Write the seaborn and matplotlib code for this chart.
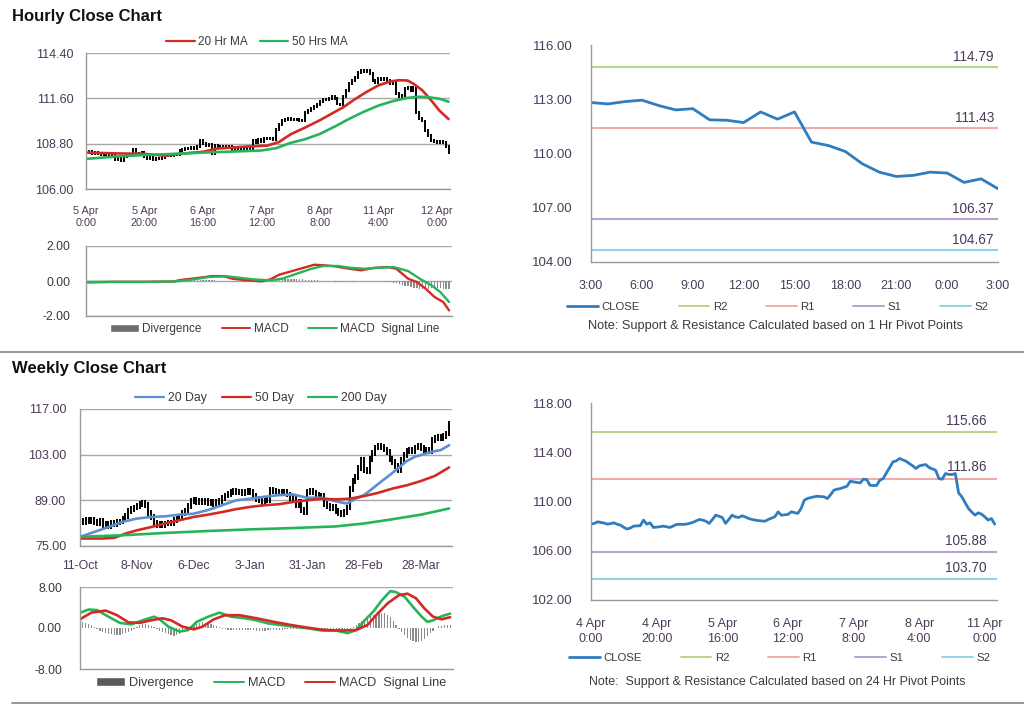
import numpy as np
import matplotlib
matplotlib.use("Agg")
import matplotlib.pyplot as plt
import seaborn as sns
from matplotlib.lines import Line2D
from matplotlib.patches import Patch

sns.set_theme(style="white")
plt.rcParams["font.family"] = ["Liberation Sans", "DejaVu Sans"]

# ---------------- DATA ----------------
# Hourly close chart (top-left), 125 hourly points
hourly_close = [
    108.25, 108.30, 108.22, 108.28, 108.20, 108.15, 108.18, 108.10, 108.12, 108.05,
    107.80, 107.90, 107.75, 108.00, 108.10, 108.05, 108.45, 108.20, 108.15, 108.25,
    108.00, 107.90, 107.95, 107.85, 107.90, 107.88, 107.95, 108.05, 108.10, 108.08,
    108.12, 108.15, 108.35, 108.45, 108.50, 108.48, 108.55, 108.50, 108.60, 109.00,
    108.80, 108.70, 108.75, 108.20, 108.70, 108.65, 108.60, 108.62, 108.55, 108.60,
    108.45, 108.40, 108.42, 108.45, 108.40, 108.50, 108.48, 109.00, 108.90, 109.05,
    108.95, 109.10, 109.10, 109.15, 109.05, 109.70, 110.00, 110.25, 110.30, 110.35,
    110.30, 110.32, 110.28, 110.25, 110.20, 110.70, 110.85, 110.95, 111.10, 111.20,
    111.40, 111.50, 111.55, 111.60, 111.70, 111.60, 111.25, 111.20, 111.70, 112.10,
    112.50, 112.70, 112.90, 113.20, 113.35, 113.25, 113.30, 113.15, 112.70, 112.60,
    112.80, 112.75, 112.85, 112.70, 112.50, 112.55, 111.90, 111.70, 111.80, 112.20,
    112.25, 112.10, 112.30, 110.70, 110.35, 110.20, 109.60, 109.30, 109.00, 108.95,
    108.90, 108.95, 108.85, 108.60, 108.25]
hourly_tick_labels = ["5 Apr\n0:00", "5 Apr\n20:00", "6 Apr\n16:00", "7 Apr\n12:00",
                      "8 Apr\n8:00", "11 Apr\n4:00", "12 Apr\n0:00"]
ma20h_idx = [0, 10, 20, 27, 32, 40, 45, 55, 62, 66, 70, 75, 80, 85, 88, 92, 96, 100,
             104, 107, 110, 112, 115, 118, 121, 124]
ma20h = [108.25, 108.20, 108.17, 108.05, 108.17, 108.30, 108.50, 108.62, 108.68, 108.90,
         109.38, 109.80, 110.25, 110.75, 111.05, 111.55, 112.00, 112.40, 112.64, 112.72,
         112.70, 112.50, 112.10, 111.49, 110.82, 110.32]
ma50h_idx = [0, 10, 20, 30, 40, 50, 60, 65, 70, 75, 80, 85, 90, 95, 100, 105, 110, 114,
             118, 121, 124]
ma50h = [107.86, 108.00, 108.10, 108.17, 108.25, 108.31, 108.38, 108.52, 108.85, 109.08,
         109.40, 109.85, 110.33, 110.77, 111.15, 111.43, 111.63, 111.70, 111.65, 111.57,
         111.39]
macdh_idx = [0, 10, 20, 30, 32, 38, 43, 47, 50, 55, 60, 63, 66, 70, 74, 78, 81, 85, 90,
             94, 98, 103, 106, 110, 113, 116, 119, 122, 124]
macdh = [-0.08, -0.05, -0.05, -0.03, 0.05, 0.17, 0.28, 0.28, 0.13, 0.04, -0.02, 0.10,
         0.36, 0.55, 0.74, 0.93, 0.90, 0.84, 0.70, 0.61, 0.74, 0.80, 0.70, 0.13, -0.06,
         -0.44, -0.91, -1.20, -1.68]
signalh_idx = [0, 10, 20, 30, 35, 42, 48, 52, 58, 63, 67, 72, 77, 81, 86, 90, 95, 100,
               105, 110, 114, 118, 121, 124]
signalh = [-0.05, -0.05, -0.05, -0.03, 0.05, 0.23, 0.27, 0.19, 0.08, 0.04, 0.13, 0.42,
           0.70, 0.86, 0.86, 0.76, 0.70, 0.76, 0.80, 0.57, 0.13, -0.25, -0.63, -1.20]
divh = [
    0.0, 0.0, 0.0, 0.0, 0.0, 0.0, 0.0, 0.0, 0.0, 0.0,
    0.0, 0.0, 0.0, 0.0, 0.0, 0.0, 0.0, 0.0, 0.0, 0.0,
    0.0, 0.0, 0.0, 0.0, 0.0, 0.0, 0.0, 0.0, 0.0, 0.0,
    0.01, 0.02, 0.03, 0.04, 0.05, 0.05, 0.05, 0.05, 0.04, 0.04,
    0.04, 0.04, 0.03, 0.03, 0.03, 0.02, 0.02, 0.01, 0.0, -0.02,
    -0.03, -0.04, -0.04, -0.04, -0.03, -0.03, -0.02, -0.02, -0.01, 0.0,
    0.02, 0.04, 0.06, 0.08, 0.10, 0.12, 0.13, 0.14, 0.14, 0.14,
    0.13, 0.13, 0.12, 0.10, 0.09, 0.08, 0.07, 0.05, 0.04, 0.03,
    0.02, 0.01, 0.0, -0.01, -0.02, -0.03, -0.03, -0.04, -0.04, -0.04,
    -0.04, -0.03, -0.03, -0.02, -0.02, -0.01, -0.01, 0.0, 0.0, 0.0,
    -0.01, -0.02, -0.03, -0.05, -0.07, -0.10, -0.14, -0.18, -0.22, -0.26,
    -0.30, -0.34, -0.38, -0.42, -0.45, -0.46, -0.46, -0.44, -0.42, -0.40,
    -0.40, -0.42, -0.44, -0.45, -0.46]

# Hourly pivot chart (top-right), 25 hourly points 3:00 -> 3:00
pivot1_close = [112.82, 112.74, 112.87, 112.95, 112.65, 112.41, 112.48, 111.86, 111.84,
                111.71, 112.30, 111.90, 112.30, 110.63, 110.44, 110.11, 109.43, 108.97,
                108.73, 108.79, 108.97, 108.92, 108.40, 108.60, 108.05]
pivot1_tick_labels = ["3:00", "6:00", "9:00", "12:00", "15:00", "18:00", "21:00", "0:00", "3:00"]
pivot1_levels = {"R2": 114.79, "R1": 111.43, "S1": 106.37, "S2": 104.67}

# Weekly close chart (bottom-left), 131 daily points
daily_close = [
    82.8, 82.2, 83.0, 82.5, 82.9, 82.4, 82.0, 82.6, 81.5, 81.9,
    81.2, 82.0, 81.6, 82.3, 82.5, 83.2, 84.2, 85.6, 86.3, 86.8,
    87.2, 87.8, 88.2, 87.5, 85.0, 83.8, 82.0, 81.5, 81.8, 81.3,
    81.9, 82.2, 82.0, 83.0, 83.6, 84.0, 85.2, 85.8, 87.2, 88.8,
    89.0, 88.6, 88.8, 88.4, 88.7, 88.2, 88.5, 88.0, 88.6, 88.8,
    89.6, 90.5, 91.0, 91.5, 91.8, 91.4, 91.7, 91.2, 91.6, 91.8,
    91.5, 90.2, 89.5, 89.0, 88.6, 89.2, 89.0, 92.2, 91.8, 91.5,
    91.7, 91.4, 91.6, 90.8, 89.6, 89.4, 87.6, 88.4, 86.0, 85.4,
    91.6, 92.0, 91.4, 90.8, 90.2, 90.5, 87.8, 87.2, 86.6, 87.0,
    85.6, 85.2, 84.8, 85.4, 86.8, 92.6, 94.8, 96.2, 98.8, 101.5,
    98.4, 98.0, 101.8, 103.6, 105.2, 105.8, 105.4, 104.6, 103.8, 101.6,
    100.8, 99.6, 98.2, 101.5, 103.0, 104.2, 104.6, 104.2, 105.2, 105.6,
    105.0, 104.2, 104.6, 104.0, 107.6, 108.2, 108.5, 108.2, 108.8, 109.5,
    112.5]
daily_tick_labels = ["11-Oct", "8-Nov", "6-Dec", "3-Jan", "31-Jan", "28-Feb", "28-Mar"]
ma20d_idx = [0, 5, 10, 15, 20, 25, 30, 35, 40, 45, 50, 55, 60, 65, 70, 75, 80, 85, 90, 94,
             97, 100, 103, 106, 109, 112, 115, 118, 121, 124, 127, 130]
ma20d = [77.8, 79.3, 80.8, 82.4, 83.4, 83.9, 84.1, 84.6, 84.9, 86.0, 87.5, 89.0, 89.5,
         90.1, 90.6, 90.8, 89.8, 89.8, 88.7, 88.0, 89.5, 90.6, 92.6, 94.7, 96.7, 98.8,
         101.0, 102.4, 103.1, 103.9, 104.4, 105.9]
ma50d_idx = [0, 8, 12, 16, 20, 25, 30, 35, 40, 45, 50, 55, 60, 65, 70, 75, 80, 85, 90, 95,
             100, 105, 110, 115, 120, 125, 130]
ma50d = [77.3, 77.3, 77.5, 78.8, 79.8, 80.8, 81.9, 82.9, 83.9, 84.6, 85.4, 86.3, 87.0,
         87.5, 87.8, 88.5, 89.0, 89.5, 89.3, 89.5, 90.3, 91.3, 92.6, 93.6, 94.9, 96.5, 99.1]
ma200d_idx = [0, 15, 30, 45, 60, 75, 90, 100, 110, 120, 130]
ma200d = [77.8, 78.3, 79.0, 79.6, 80.1, 80.5, 81.0, 81.9, 83.2, 84.6, 86.5]
macdd_idx = [0, 3, 6, 10, 14, 18, 22, 26, 28, 31, 35, 38, 41, 45, 49, 53, 58, 62, 66, 70,
             75, 80, 85, 90, 94, 97, 100, 103, 106, 109, 111, 114, 117, 120, 122, 124, 127, 130]
macdd = [2.97, 3.6, 3.5, 2.2, 1.0, 0.7, 1.5, 2.2, 1.7, 0.26, -0.7, -0.4, 1.2, 2.2, 3.0,
         2.2, 1.9, 1.5, 0.9, 0.6, 0.26, -0.06, -0.5, -0.5, -1.0, -0.4, 1.5, 3.2, 5.4, 7.2,
         7.0, 6.1, 4.1, 2.2, 1.2, 1.5, 2.3, 2.8]
signald_idx = [0, 4, 9, 13, 17, 21, 25, 29, 32, 36, 40, 43, 47, 51, 56, 62, 68, 74, 80, 86,
               92, 97, 101, 104, 108, 112, 115, 118, 121, 124, 127, 130]
signald = [1.7, 3.0, 3.4, 2.5, 1.1, 1.0, 1.5, 1.9, 1.5, 0.26, -0.26, 0.26, 1.7, 2.5, 2.5,
           1.9, 1.2, 0.6, 0.06, -0.4, -0.5, -0.4, 0.6, 2.5, 4.8, 6.4, 6.7, 5.8, 3.8, 2.2,
           1.7, 2.1]
divd = [
    1.2, 1.1, 1.0, 0.8, 0.5, 0.2, -0.2, -0.5, -0.8, -1.0,
    -1.1, -1.2, -1.3, -1.3, -1.3, -1.2, -1.0, -0.8, -0.5, -0.2,
    0.2, 0.5, 0.7, 0.8, 0.6, 0.4, 0.1, -0.2, -0.5, -0.8,
    -1.0, -1.2, -1.4, -1.5, -1.4, -1.2, -0.8, -0.4, 0.0, 0.4,
    0.7, 0.9, 1.0, 1.1, 1.0, 0.9, 0.7, 0.5, 0.3, 0.1,
    -0.1, -0.2, -0.3, -0.3, -0.3, -0.3, -0.3, -0.4, -0.4, -0.4,
    -0.4, -0.4, -0.5, -0.5, -0.5, -0.5, -0.4, -0.4, -0.3, -0.3,
    -0.3, -0.3, -0.2, -0.2, -0.2, -0.2, -0.1, -0.1, -0.1, -0.2,
    -0.2, -0.2, -0.3, -0.3, -0.3, -0.3, -0.3, -0.4, -0.4, -0.4,
    -0.4, -0.4, -0.5, -0.5, -0.4, -0.2, 0.2, 0.6, 1.0, 1.4,
    1.8, 2.1, 2.4, 2.6, 2.8, 2.9, 3.0, 2.9, 2.6, 2.1,
    1.4, 0.6, -0.2, -0.8, -1.4, -1.9, -2.3, -2.6, -2.8, -2.8,
    -2.6, -2.2, -1.6, -1.0, -0.5, 0.0, 0.3, 0.4, 0.5, 0.5,
    0.5]

# 24h pivot chart (bottom-right), 124 hourly points
pivot24_close = [
    108.16, 108.22, 108.35, 108.30, 108.25, 108.16, 108.20, 108.27, 108.15, 108.08,
    107.90, 107.76, 107.85, 108.00, 108.02, 108.03, 108.49, 108.16, 108.27, 107.89,
    107.92, 107.95, 108.00, 107.95, 107.89, 108.00, 108.13, 108.15, 108.14, 108.16,
    108.22, 108.30, 108.42, 108.54, 108.49, 108.40, 108.22, 108.54, 108.89, 108.80,
    108.70, 108.22, 108.55, 108.89, 108.75, 108.70, 108.84, 108.75, 108.62, 108.55,
    108.49, 108.45, 108.42, 108.40, 108.54, 108.65, 108.76, 109.16, 108.89, 108.92,
    108.95, 109.16, 109.10, 109.03, 109.43, 110.11, 110.25, 110.32, 110.38, 110.43,
    110.40, 110.38, 110.24, 110.55, 110.92, 111.00, 111.05, 111.15, 111.24, 111.65,
    111.59, 111.55, 111.51, 111.81, 111.78, 111.32, 111.30, 111.30, 111.73, 111.86,
    112.32, 112.76, 113.22, 113.30, 113.49, 113.38, 113.27, 113.08, 112.90, 112.68,
    112.89, 112.95, 113.00, 112.76, 112.65, 112.54, 111.86, 111.81, 112.27, 112.20,
    112.19, 112.27, 110.70, 110.38, 109.90, 109.43, 109.15, 108.89, 109.08, 108.97,
    108.75, 108.49, 108.62, 108.16]
pivot24_tick_labels = ["4 Apr\n0:00", "4 Apr\n20:00", "5 Apr\n16:00", "6 Apr\n12:00",
                       "7 Apr\n8:00", "8 Apr\n4:00", "11 Apr\n0:00"]
pivot24_levels = {"R2": 115.66, "R1": 111.86, "S1": 105.88, "S2": 103.70}

# ---------------- STYLE ----------------
W, H = 1024, 706
fig = plt.figure(figsize=(W / 100, H / 100), dpi=100)
fig.patch.set_facecolor("white")

RED = "#d42a24"
GREEN = "#27b35a"
BLUE_CLOSE = "#2f7dbf"
BLUE_MA = "#5b8fd2"
GRID = "#a8a8a8"
SPINE = "#9a9a9a"
TICKC = "#4c3a58"
TXT = "#3a3a3a"
DIVC = "#8c8c8c"
LEVEL_COLORS = {"R2": "#b9d48e", "R1": "#f2abab", "S1": "#b6a3d3", "S2": "#92d2ea"}


def ax_at(x0, y0, x1, y1):
    return fig.add_axes([x0 / W, 1 - y1 / H, (x1 - x0) / W, (y1 - y0) / H])


def style(ax, grid=True, ypad=5):
    for s in ["top", "right"]:
        ax.spines[s].set_visible(False)
    for s in ["left", "bottom"]:
        ax.spines[s].set_color(SPINE)
        ax.spines[s].set_linewidth(1.0)
    ax.set_facecolor("white")
    ax.tick_params(axis="both", which="both", direction="out", length=3, width=0.8,
                   color=SPINE, pad=2)
    ax.tick_params(axis="y", pad=ypad)
    ax.set_xlabel("")
    ax.set_ylabel("")
    if grid:
        ax.yaxis.grid(True, color=GRID, lw=1.0)
        ax.set_axisbelow(True)
    ax.xaxis.grid(False)


def legend_at(ax, handles, labels, cx, cy, fs=8, colsp=1.5, hl=2.8):
    leg = ax.legend(handles, labels, loc="center", bbox_to_anchor=(cx / W, 1 - cy / H),
                    bbox_transform=fig.transFigure, ncol=len(labels), frameon=False,
                    fontsize=fs, handlelength=hl, handletextpad=0.3, columnspacing=colsp,
                    borderaxespad=0, borderpad=0)
    for t in leg.get_texts():
        t.set_color(TXT)
    return leg


def candles(ax, closes, lw, pad):
    c = np.asarray(closes)
    x = np.arange(len(c))
    prev = np.r_[c[0], c[:-1]]
    lo = np.minimum(c, prev) - pad
    hi = np.maximum(c, prev) + pad
    ax.vlines(x, lo, hi, color="black", lw=lw)


def line(ax, x, y, color, lw=1.6):
    sns.lineplot(x=x, y=y, ax=ax, color=color, lw=lw, legend=False)


# ---------------- TOP-LEFT: Hourly price ----------------
fig.text(12 / W, 1 - 16 / H, "Hourly Close Chart", fontsize=12, fontweight="bold",
         color="#111111", va="center", ha="left")

ax1 = ax_at(86, 53, 450, 189)
style(ax1, ypad=6)
candles(ax1, hourly_close, 1.4, 0.09)
line(ax1, ma20h_idx, ma20h, RED, 1.9)
line(ax1, ma50h_idx, ma50h, GREEN, 1.9)
ax1.set_xlim(0, 124.5)
ax1.set_ylim(106.0, 114.4)
ax1.set_yticks([106.0, 108.8, 111.6, 114.4])
ax1.set_yticklabels([f"{v:.2f}" for v in [106.0, 108.8, 111.6, 114.4]], fontsize=9,
                    color=TICKC)
ax1.set_xticks(np.arange(0, 121, 20))
ax1.set_xticklabels(hourly_tick_labels, fontsize=7.8, color=TICKC, linespacing=1.35)
ax1.tick_params(axis="x", length=4, pad=8)
legend_at(ax1, [Line2D([], [], color=RED, lw=1.6), Line2D([], [], color=GREEN, lw=1.6)],
          ["20 Hr MA", "50 Hrs MA"], 257, 42, fs=8.5, colsp=1.0, hl=2.4)

# ---------------- TOP-LEFT: MACD ----------------
ax2 = ax_at(86, 246, 452, 316)
style(ax2, ypad=8)
ax2.bar(np.arange(len(divh)), divh, width=0.45, color=DIVC, lw=0)
line(ax2, macdh_idx, macdh, RED, 1.7)
line(ax2, signalh_idx, signalh, GREEN, 1.7)
ax2.set_xlim(0, 125)
ax2.set_ylim(-2, 2)
ax2.set_yticks([-2, 0, 2])
ax2.set_yticklabels(["-2.00", "0.00", "2.00"], fontsize=8.8, color=TXT)
ax2.set_xticks([])
legend_at(ax2, [Patch(facecolor="#6e6e6e"), Line2D([], [], color=RED, lw=1.4),
                Line2D([], [], color=GREEN, lw=1.4)],
          ["Divergence", "MACD", "MACD  Signal Line"], 275, 329, fs=8.5, colsp=1.7, hl=2.4)

# ---------------- TOP-RIGHT: 1h pivots ----------------
ax3 = ax_at(591, 45, 998, 262)
style(ax3, grid=False, ypad=10)
for name, val in pivot1_levels.items():
    ax3.axhline(val, color=LEVEL_COLORS[name], lw=1.5)
    ax3.annotate(f"{val:.2f}", xy=(0.99, val), xycoords=("axes fraction", "data"),
                 xytext=(0, 2), textcoords="offset points", ha="right", va="bottom",
                 fontsize=9.8, color=TICKC)
line(ax3, np.arange(len(pivot1_close)), pivot1_close, BLUE_CLOSE, 2.0)
ax3.set_xlim(0, 24)
ax3.set_ylim(104, 116)
ax3.set_yticks([104, 107, 110, 113, 116])
ax3.set_yticklabels([f"{v:.2f}" for v in [104, 107, 110, 113, 116]], fontsize=9.5,
                    color=TICKC)
ax3.set_xticks(np.arange(0, 25, 3))
ax3.set_xticklabels(pivot1_tick_labels, fontsize=9, color=TICKC)
ax3.tick_params(axis="x", length=4, pad=9)
lv_handles = [Line2D([], [], color=BLUE_CLOSE, lw=2.0)] + \
    [Line2D([], [], color=LEVEL_COLORS[k], lw=1.4) for k in ["R2", "R1", "S1", "S2"]]
legend_at(ax3, lv_handles, ["CLOSE", "R2", "R1", "S1", "S2"], 778, 307, fs=8.2,
          colsp=3.4, hl=2.7)
fig.text(775 / W, 1 - 326 / H,
         "Note: Support & Resistance Calculated based on 1 Hr Pivot Points",
         fontsize=9.2, color=TXT, ha="center", va="center")

# separators
fig.add_artist(Line2D([0.0, 1.0], [1 - 352 / H] * 2, color="#8e8e8e", lw=1.3))
fig.add_artist(Line2D([12 / W, 1.0], [1 - 703 / H] * 2, color="#8e8e8e", lw=1.3))

# ---------------- BOTTOM-LEFT: daily price ----------------
fig.text(12 / W, 1 - 369 / H, "Weekly Close Chart", fontsize=12, fontweight="bold",
         color="#111111", va="center", ha="left")
ax4 = ax_at(80, 409, 452, 546)
style(ax4, ypad=7)
candles(ax4, daily_close, 1.4, 0.9)
line(ax4, ma20d_idx, ma20d, BLUE_MA, 1.9)
line(ax4, ma50d_idx, ma50d, RED, 1.9)
line(ax4, ma200d_idx, ma200d, GREEN, 1.9)
ax4.set_xlim(0, 131)
ax4.set_ylim(75, 117)
ax4.set_yticks([75, 89, 103, 117])
ax4.set_yticklabels(["75.00", "89.00", "103.00", "117.00"], fontsize=9, color=TICKC)
ax4.set_xticks(np.arange(0, 121, 20))
ax4.set_xticklabels(daily_tick_labels, fontsize=8.8, color=TICKC)
ax4.tick_params(axis="x", length=4, pad=6)
legend_at(ax4, [Line2D([], [], color=BLUE_MA, lw=1.6), Line2D([], [], color=RED, lw=1.6),
                Line2D([], [], color=GREEN, lw=1.6)],
          ["20 Day", "50 Day", "200 Day"], 261, 398, fs=8.8, colsp=1.2, hl=2.4)

# ---------------- BOTTOM-LEFT: MACD ----------------
ax5 = ax_at(80, 587, 453, 669)
style(ax5, ypad=10)
ax5.bar(np.arange(len(divd)), divd, width=0.45, color=DIVC, lw=0)
line(ax5, macdd_idx, macdd, GREEN, 1.9)
line(ax5, signald_idx, signald, RED, 1.9)
ax5.set_xlim(0, 131)
ax5.set_ylim(-8, 8)
ax5.set_yticks([-8, 0, 8])
ax5.set_yticklabels(["-8.00", "0.00", "8.00"], fontsize=8.8, color=TXT)
ax5.yaxis.grid(False)
ax5.axhline(8, color=GRID, lw=1.0)
ax5.set_xticks([])
legend_at(ax5, [Patch(facecolor="#5a5a5a"), Line2D([], [], color=GREEN, lw=1.4),
                Line2D([], [], color=RED, lw=1.4)],
          ["Divergence", "MACD", "MACD  Signal Line"], 271, 683, fs=9.2, colsp=1.6, hl=2.3)

# ---------------- BOTTOM-RIGHT: 24h pivots ----------------
ax6 = ax_at(591, 403, 997, 600)
style(ax6, grid=False, ypad=10)
for name, val in pivot24_levels.items():
    ax6.axhline(val, color=LEVEL_COLORS[name], lw=1.5)
    ax6.annotate(f"{val:.2f}", xy=(0.975, val), xycoords=("axes fraction", "data"),
                 xytext=(0, 3), textcoords="offset points", ha="right", va="bottom",
                 fontsize=9.8, color=TICKC)
line(ax6, np.arange(len(pivot24_close)), pivot24_close, BLUE_CLOSE, 2.0)
ax6.set_xlim(0, 123.7)
ax6.set_ylim(102, 118)
ax6.set_yticks([102, 106, 110, 114, 118])
ax6.set_yticklabels([f"{v:.2f}" for v in [102, 106, 110, 114, 118]], fontsize=9.5,
                    color=TICKC)
ax6.set_xticks(np.arange(0, 121, 20))
ax6.set_xticklabels(pivot24_tick_labels, fontsize=9, color=TICKC, linespacing=1.3)
ax6.tick_params(axis="x", length=4, pad=9)
legend_at(ax6, lv_handles, ["CLOSE", "R2", "R1", "S1", "S2"], 780, 658, fs=8.2,
          colsp=3.4, hl=2.7)
fig.text(777 / W, 1 - 682 / H,
         "Note:  Support & Resistance Calculated based on 24 Hr Pivot Points",
         fontsize=8.9, color=TXT, ha="center", va="center")

fig.savefig("out.png", dpi=100, facecolor="white")
